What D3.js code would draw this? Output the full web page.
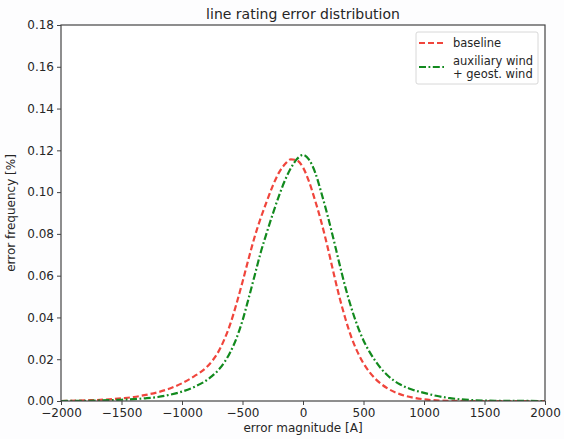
<!DOCTYPE html>
<html>
<head>
<meta charset="utf-8">
<script src="https://cdn.jsdelivr.net/npm/d3@7"></script>
<style>
  html, body { margin: 0; padding: 0; background: #fdfdfe; }
  svg { display: block; font-family: "DejaVu Sans", sans-serif; }
</style>
</head>
<body>
<script>
// ---- data ----
const title = "line rating error distribution";
const xLabel = "error magnitude [A]";
const yLabel = "error frequency [%]";
const xTicks = [-2000, -1500, -1000, -500, 0, 500, 1000, 1500, 2000];
const yTicks = [0, 0.02, 0.04, 0.06, 0.08, 0.10, 0.12, 0.14, 0.16, 0.18];
const seriesNames = ["baseline", "auxiliary wind\n+ geost. wind"];

const baselineX = [-2000,-1800,-1600,-1500,-1400,-1300,-1200,-1100,-1000,-900,-800,-750,-700,-650,-600,-550,-500,-450,-400,-350,-300,-250,-200,-150,-100,-50,0,50,100,150,200,250,300,350,400,450,500,550,600,700,800,900,1000,1100,1200,1400,2000];
const baselineY = [0.0000,0.0003,0.0008,0.0013,0.0019,0.0029,0.0042,0.0060,0.0085,0.0118,0.0160,0.0192,0.0235,0.0295,0.0370,0.0465,0.0570,0.0680,0.0785,0.0875,0.0955,0.1030,0.1092,0.1133,0.1157,0.1152,0.1118,0.1050,0.0960,0.0860,0.0745,0.0620,0.0500,0.0395,0.0305,0.0235,0.0180,0.0138,0.0105,0.0060,0.0033,0.0017,0.0008,0.0003,0.0001,0.0000,0.0000];

const windX = [-2000,-1800,-1600,-1500,-1400,-1300,-1200,-1100,-1000,-900,-800,-750,-700,-650,-600,-550,-500,-450,-400,-350,-300,-250,-200,-150,-100,-50,0,50,100,150,200,250,300,350,400,450,500,550,600,650,700,800,900,1000,1100,1200,1300,1400,1600,2000];
const windY = [0.0000,0.0001,0.0004,0.0006,0.0009,0.0013,0.0019,0.0030,0.0045,0.0067,0.0098,0.0120,0.0148,0.0185,0.0235,0.0300,0.0385,0.0490,0.0600,0.0710,0.0805,0.0895,0.0980,0.1055,0.1115,0.1158,0.1178,0.1155,0.1095,0.1000,0.0895,0.0780,0.0660,0.0545,0.0445,0.0360,0.0290,0.0235,0.0190,0.0152,0.0122,0.0080,0.0055,0.0039,0.0025,0.0015,0.0008,0.0004,0.0001,0.0000];

// ---- layout ----
const W = 564, H = 439;
const m = { left: 61, right: 19, top: 25, bottom: 38 };
const textColor = "#262626";

const svg = d3.select("body").append("svg").attr("width", W).attr("height", H);
svg.append("rect").attr("width", W).attr("height", H).attr("fill", "#fdfdfe");

const x = d3.scaleLinear().domain([-2000, 2000]).range([m.left, W - m.right]);
const y = d3.scaleLinear().domain([0, 0.18]).range([H - m.bottom, m.top]);

// plot background
svg.append("rect")
  .attr("x", x(-2000)).attr("y", y(0.18))
  .attr("width", x(2000) - x(-2000)).attr("height", y(0) - y(0.18))
  .attr("fill", "#ffffff");

// axes
const xAxis = svg.append("g")
  .attr("transform", `translate(0,${y(0)})`)
  .call(d3.axisBottom(x).tickValues(xTicks).tickSize(4).tickPadding(3)
    .tickFormat(d => d < 0 ? "\u2212" + Math.abs(d) : String(d)));
const yAxis = svg.append("g")
  .attr("transform", `translate(${x(-2000)},0)`)
  .call(d3.axisLeft(y).tickValues(yTicks).tickSize(4).tickPadding(3)
    .tickFormat(d3.format(".2f")));
[xAxis, yAxis].forEach(g => {
  g.select(".domain").remove();
  g.selectAll(".tick line").attr("stroke", "#444");
  g.selectAll(".tick text").attr("fill", textColor).style("font-size", "12px")
    .style("font-family", "DejaVu Sans, sans-serif");
});

// clip
svg.append("clipPath").attr("id", "clip").append("rect")
  .attr("x", x(-2000)).attr("y", y(0.18))
  .attr("width", x(2000) - x(-2000)).attr("height", y(0) - y(0.18));

const line = d3.line().curve(d3.curveMonotoneX).x(d => x(d[0])).y(d => y(d[1]));
const baselineData = baselineX.map((v, i) => [v, baselineY[i]]);
const windData = windX.map((v, i) => [v, windY[i]]);

const plot = svg.append("g").attr("clip-path", "url(#clip)");
plot.append("path").datum(baselineData)
  .attr("d", line).attr("fill", "none")
  .attr("stroke", "#f0453c").attr("stroke-width", 2.2)
  .attr("stroke-dasharray", "6,3");
plot.append("path").datum(windData)
  .attr("d", line).attr("fill", "none")
  .attr("stroke", "#128a1e").attr("stroke-width", 2.2)
  .attr("stroke-dasharray", "7,2.5,1.8,2.5");

// frame
svg.append("rect")
  .attr("x", x(-2000)).attr("y", y(0.18))
  .attr("width", x(2000) - x(-2000)).attr("height", y(0) - y(0.18))
  .attr("fill", "none").attr("stroke", "#444").attr("stroke-width", 1.2);

// title and labels
svg.append("text").attr("x", (x(-2000) + x(2000)) / 2).attr("y", 19)
  .attr("text-anchor", "middle").attr("fill", textColor)
  .style("font-size", "14px").text(title);
svg.append("text").attr("x", (x(-2000) + x(2000)) / 2).attr("y", 432)
  .attr("text-anchor", "middle").attr("fill", textColor)
  .style("font-size", "12px").text(xLabel);
svg.append("text")
  .attr("transform", `translate(15,${(y(0) + y(0.18)) / 2}) rotate(-90)`)
  .attr("text-anchor", "middle").attr("fill", textColor)
  .style("font-size", "12px").text(yLabel);

// legend
const lg = svg.append("g");
lg.append("rect").attr("x", 416).attr("y", 32).attr("width", 122).attr("height", 52)
  .attr("rx", 2).attr("fill", "#ffffff").attr("stroke", "#d8d8d8").attr("stroke-width", 1);
lg.append("line").attr("x1", 419).attr("x2", 444).attr("y1", 43).attr("y2", 43)
  .attr("stroke", "#f0453c").attr("stroke-width", 2.2).attr("stroke-dasharray", "6,3");
lg.append("text").attr("x", 453).attr("y", 47).attr("fill", textColor)
  .style("font-size", "11.5px").text(seriesNames[0]);
lg.append("line").attr("x1", 419).attr("x2", 444).attr("y1", 67).attr("y2", 67)
  .attr("stroke", "#128a1e").attr("stroke-width", 2.2).attr("stroke-dasharray", "7,2.5,1.8,2.5");
seriesNames[1].split("\n").forEach((t, i) => {
  lg.append("text").attr("x", 453).attr("y", 64.5 + i * 13.5).attr("fill", textColor)
    .style("font-size", "11.5px").text(t);
});
</script>
</body>
</html>
